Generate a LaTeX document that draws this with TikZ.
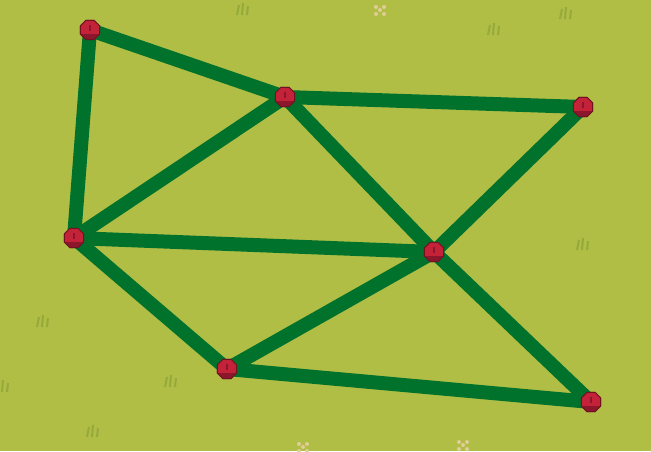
\documentclass[tikz,border=0pt]{standalone}
\usetikzlibrary{shapes.geometric}
\definecolor{meadow}{RGB}{176,190,70}
\definecolor{tuft}{RGB}{150,170,60}
\definecolor{fence}{RGB}{0,114,44}
\definecolor{postred}{RGB}{196,34,56}
\definecolor{postdark}{RGB}{140,22,44}
\definecolor{petal}{RGB}{225,205,150}

\tikzset{
  post/.style={regular polygon,regular polygon sides=8,minimum size=21pt,inner sep=0pt,
    fill=postred,draw=postdark!80!black,line width=1pt,
    path picture={\fill[postdark] (path picture bounding box.south west) rectangle ([yshift=-4pt]path picture bounding box.east);
      \fill[postdark] ([xshift=-1pt,yshift=5pt]path picture bounding box.center) rectangle ([xshift=1pt,yshift=-1pt]path picture bounding box.center);}},
  rail/.style={fence,line width=14pt}
}

\begin{document}
\begin{tikzpicture}[x=1pt,y=-1pt]
  \fill[meadow] (0,0) rectangle (651,451);
  \useasboundingbox (0,0) rectangle (651,451);
  % grass
  \foreach \gx/\gy in {242/8,493/28,565/12,582/243,42/320,170/380,92/430,2/385} {
    \draw[tuft,line width=2pt] (\gx-5,\gy+7) -- (\gx-3,\gy-3) (\gx,\gy+7) -- (\gx+1,\gy-5) (\gx+5,\gy+7) -- (\gx+6,\gy-2);
  }
  % flowers
  \foreach \fx/\fy in {380/10,303/447,463/445} {
    \foreach \dx/\dy in {-4/-3,4/-3,-4/4,4/4,0/0} {
      \fill[petal] (\fx+\dx,\fy+\dy) circle (2pt);
    }
  }
  \node[post] (a) at (90,30) {};
  \node[post] (b) at (285,97) {};
  \node[post] (c) at (583,107) {};
  \node[post] (d) at (74,238) {};
  \node[post] (e) at (434,252) {};
  \node[post] (f) at (227,369) {};
  \node[post] (g) at (591,402) {};
  % fences
  \foreach \u/\v in {a/b,a/d,b/c,b/d,b/e,c/e,d/e,d/f,f/e,e/g,f/g} {
    \draw[rail] (\u.center) -- (\v.center);
  }
  \foreach \p in {a,b,c,d,e,f,g} {
    \node[post] at (\p) {};
  }
\end{tikzpicture}
\end{document}
